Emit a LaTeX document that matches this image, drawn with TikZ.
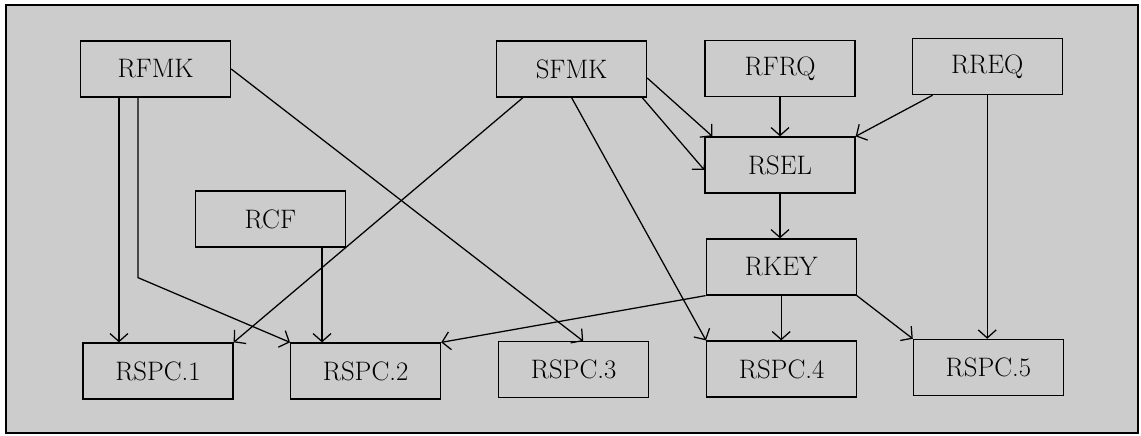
\documentclass[tikz,border=0pt]{standalone}
\usepackage{fontspec}
\usetikzlibrary{arrows.meta}
\begin{document}
\begin{tikzpicture}[line width=0.9pt,
        blk/.style={draw,minimum width=3.75cm,minimum height=1.4cm,font=\fontsize{19}{21}\selectfont},
        arr/.style={-{Straight Barb[length=2mm,width=4.5mm]}}]
        \useasboundingbox (0,0) rectangle (28.525,10.875);
        \draw[fill=black!20] (0.15,0.05) rectangle (28.45,10.75);

        \node[blk] (rfmk) at (3.89,9.15) {RFMK};
        \node[blk] (sfmk) at (14.29,9.15) {SFMK};
        \node[blk] (rfrq) at (19.5,9.16) {RFRQ};
        \node[blk] (rreq) at (24.68,9.21) {RREQ};
        \node[blk] (rsel) at (19.5,6.75) {RSEL};
        \node[blk] (rcf) at (6.76,5.4) {RCF};
        \node[blk] (rkey) at (19.53,4.2) {RKEY};
        \node[blk] (rspc1) at (3.95,1.6) {RSPC.1};
        \node[blk] (rspc2) at (9.14,1.6) {RSPC.2};
        \node[blk] (rspc3) at (14.34,1.63) {RSPC.3};
        \node[blk] (rspc4) at (19.54,1.65) {RSPC.4};
        \node[blk] (rspc5) at (24.71,1.69) {RSPC.5};

        \draw[arr] ([xshift=9.75mm]rfmk.south west) -- ([xshift=9.75mm]rfmk.south west |- rspc1.north);
        \draw[arr] ([xshift=14.5mm]rfmk.south west) -- ++(0,-4.5) -- (rspc2.north west);
        \draw[arr] (rfmk.east) -- ([xshift=2.4mm]rspc3.north);
        \draw[arr] ([xshift=6.75mm]sfmk.south west) -- (rspc1.north east);
        \draw[arr] (sfmk.south) -- (rspc4.north west);
        \draw[arr] ([yshift=-2.25mm]sfmk.east) -- ([xshift=2mm]rsel.north west);
        \draw[arr] ([xshift=-1.25mm]sfmk.south east) -- ([yshift=-1.25mm]rsel.west);
        \draw[arr] (rfrq.south) -- (rsel.north);
        \draw[arr] ([xshift=5.25mm]rreq.south west) -- (rsel.north east);
        \draw[arr] (rreq.south) -- (rreq.south |- rspc5.north);
        \draw[arr] (rsel.south) -- (rsel.south |- rkey.north);
        \draw[arr] ([xshift=-6mm]rcf.south east) -- ([xshift=-6mm]rcf.south east |- rspc2.north);
        \draw[arr] (rkey.south west) -- (rspc2.north east);
        \draw[arr] (rkey.south) -- (rkey.south |- rspc4.north);
        \draw[arr] (rkey.south east) -- (rspc5.north west);
    \end{tikzpicture}
\end{document}
